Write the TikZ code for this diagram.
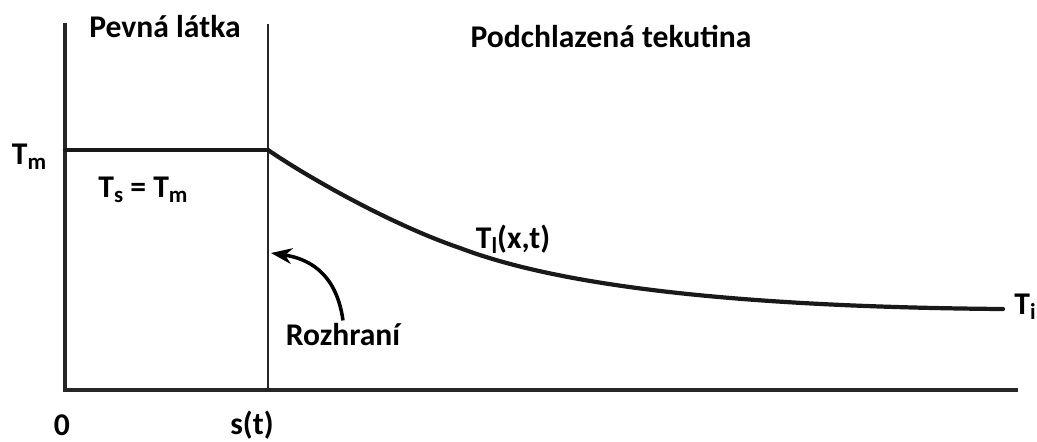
\documentclass[tikz,border=0pt]{standalone}
\usepackage{fontspec}
\setmainfont{Carlito}
\usetikzlibrary{arrows.meta,positioning}

\tikzset{
    lbl/.style={font=\bfseries\fontsize{18}{20}\selectfont, inner sep=0pt},
    axis/.style={line width=1.8pt, black!85},
    temp/.style={line width=2.4pt, black!90, line cap=round}
}
\newcommand{\idx}[1]{\raisebox{-0.35ex}{\fontsize{13}{13}\selectfont #1}}

\begin{document}
\begin{tikzpicture}[x=0.02cm, y=-0.02cm]
	\useasboundingbox (0,0) rectangle (1037,441);
	
	% axes and interface
	\coordinate (o) at (65,390);
	\coordinate (top) at (65,23);
	\coordinate (end) at (1018,390);
	\coordinate (s) at (268,390);
	\coordinate (stop) at (268,24);
	\draw[axis] (top) -- (o) -- (end);
	\draw[axis, line width=2.4pt] (top) -- (o);
	\draw[axis, line width=1.4pt] (s) -- (stop);
	
	% temperature profile
	\coordinate (m) at (65,150);
	\coordinate (sm) at (268,150);
	\coordinate (mid) at (460,248);
	\coordinate (inf) at (1003,309);
	\draw[temp] (m) -- (sm);
	\draw[temp] (sm) .. controls (312,180) and (395,226) .. (mid)
	            .. controls (565,288) and (750,307) .. (inf);
	
	% labels
	\node[lbl] (solid) at (165,27) {Pevná látka};
	\node[lbl] (liquid) at (611,36) {Podchlazená tekutina};
	\node[lbl] (tm) at (29,157) {T\idx{m}};
	\node[lbl] (ts) at (143,190) {T\idx{s} = T\idx{m}};
	\node[lbl] (tl) at (513,239) {T\idx{l}(x,t)};
	\node[lbl] (ti) at (1025,307) {T\idx{i}};
	\node[lbl] (front) at (343,335) {Rozhraní};
	\node[lbl] (zero) at (62,425) {0};
	\node[lbl] (st) at (252,425) {s(t)};
	
	% arrow to interface
	\coordinate (tip) at (271,253);
	\draw[line width=2pt, -{Stealth[length=12pt, width=9pt]}] (front.north) ++(0,-3) .. controls (336,270) and (305,258) .. (tip);
	
\end{tikzpicture}
\end{document}
